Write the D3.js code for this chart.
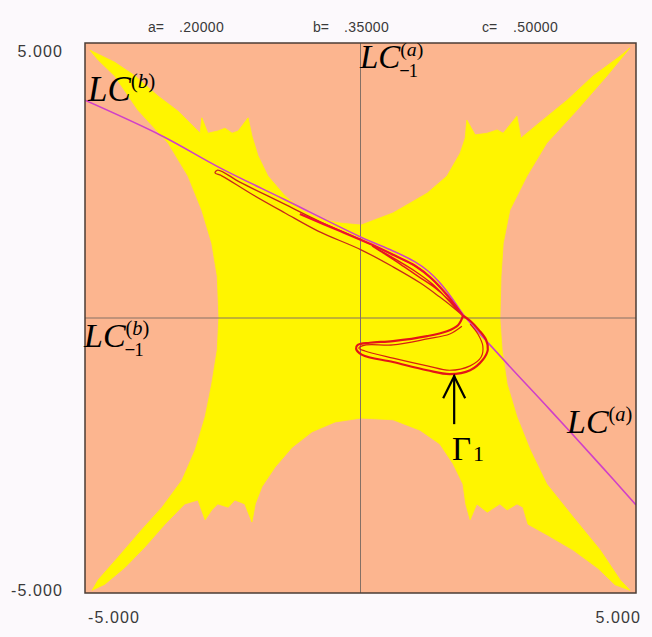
<!DOCTYPE html>
<html><head><meta charset="utf-8">
<script src="https://cdn.jsdelivr.net/npm/d3@7"></script>
<style>html,body{margin:0;padding:0;background:#fcf9fc;}svg{display:block;}</style>
</head><body>
<svg id="c" width="652" height="637"></svg>
<script>
// ---- data (phase plane coordinates) ----
const xDomain = [-5, 5];
const yDomain = [-5, 5];
const xTickLabels = ["-5.000", "5.000"];
const yTickLabels = ["5.000", "-5.000"];
const paramNames = ["a=", "b=", "c="];
const paramValues = [".20000", ".35000", ".50000"];

// basin boundary (yellow region), traced clockwise from the top-left tip
const basinTop = [[-4.91,4.87],[-4.46,4.65],[-4.09,4.40],[-3.68,4.04],[-3.31,3.76],[-3.00,3.45],[-2.91,3.36],[-2.88,3.64],[-2.77,3.36],[-2.59,3.40],[-2.46,3.45],[-2.33,3.36],[-2.22,3.40],[-2.04,3.64],[-1.97,3.31],[-1.86,2.95],[-1.68,2.58],[-1.37,2.22],[-1.06,1.96],[-0.77,1.82],[-0.41,1.73],[0.01,1.69],[0.59,1.91],[1.21,2.27],[1.57,2.58],[1.81,3.00],[1.90,3.27],[1.93,3.60],[2.08,3.33],[2.30,3.36],[2.48,3.42],[2.59,3.36],[2.84,3.67],[2.91,3.27],[3.26,3.56],[3.75,3.96],[4.22,4.40],[4.71,4.76],[4.89,4.91]];
const basinRight = [[4.47,4.40],[3.93,3.78],[3.38,3.18],[3.02,2.58],[2.71,1.96],[2.59,1.36],[2.55,0.76],[2.53,-0.02],[2.57,-0.58],[2.66,-1.20],[2.84,-1.80],[3.08,-2.40],[3.38,-3.02],[3.86,-3.62],[4.35,-4.22],[4.71,-4.76],[4.89,-4.95]];
const basinBottom = [[4.62,-4.85],[4.31,-4.55],[3.86,-4.22],[3.40,-3.95],[3.04,-3.75],[2.95,-3.44],[2.84,-3.38],[2.66,-3.49],[2.53,-3.38],[2.30,-3.53],[2.11,-3.38],[1.99,-3.67],[1.91,-3.38],[1.86,-3.02],[1.68,-2.65],[1.44,-2.29],[1.08,-2.04],[0.59,-1.85],[0.01,-1.82],[-0.46,-1.89],[-0.88,-2.07],[-1.24,-2.35],[-1.55,-2.71],[-1.79,-3.07],[-1.91,-3.38],[-1.97,-3.71],[-2.10,-3.38],[-2.28,-3.31],[-2.40,-3.44],[-2.59,-3.38],[-2.70,-3.49],[-2.82,-3.67],[-2.95,-3.31],[-3.19,-3.38],[-3.55,-3.75],[-3.91,-4.16],[-4.27,-4.53],[-4.64,-4.84],[-4.87,-4.95]];
const basinLeft = [[-4.76,-4.76],[-4.40,-4.35],[-3.97,-3.85],[-3.60,-3.44],[-3.24,-2.95],[-3.00,-2.40],[-2.82,-1.80],[-2.70,-1.20],[-2.60,-0.58],[-2.57,0.02],[-2.60,0.76],[-2.70,1.36],[-2.88,1.96],[-3.13,2.58],[-3.49,3.18],[-4.04,3.78],[-4.46,4.40],[-4.76,4.69]];

// critical curves LC(b) (upper-left) and LC(a) (lower-right)
const criticalCurve = [[-5.00,3.96],[-3.60,3.31],[-2.55,2.73],[-1.37,2.15],[0.01,1.47],[0.59,1.22],[0.99,1.02],[1.23,0.85],[1.44,0.64],[1.66,0.36],[1.86,0.07],[2.57,-0.73],[3.44,-1.67],[4.35,-2.67],[5.00,-3.40]];

// attractor Gamma_1 strands
const upperLoop = [[1.86,0.04],[1.44,0.56],[1.08,0.89],[0.72,1.09],[0.01,1.42],[-0.73,1.75],[-1.46,2.11],[-2.19,2.47],[-2.59,2.69],[-2.64,2.64],[-2.51,2.58],[-1.97,2.25],[-1.37,1.91],[-0.77,1.58],[0.01,1.24],[0.59,0.93],[1.08,0.64],[1.44,0.38],[1.72,0.16],[1.86,0.04]];
const bandStrand = [[-1.10,1.89],[-0.37,1.58],[0.21,1.33],[0.63,1.13],[0.99,0.95],[1.30,0.71],[1.57,0.42],[1.77,0.16],[1.86,0.04]];
const innerLoop = [[0.21,1.31],[0.63,1.07],[0.99,0.85],[1.30,0.62],[1.57,0.35],[1.77,0.13],[1.62,0.31],[1.35,0.55],[1.04,0.76],[0.72,0.98],[0.35,1.22],[0.21,1.31]];
const lowerLoop = [[1.86,0.04],[1.77,-0.13],[1.57,-0.24],[1.21,-0.33],[0.59,-0.42],[0.17,-0.45],[-0.05,-0.49],[-0.08,-0.56],[0.03,-0.67],[0.59,-0.80],[1.21,-0.95],[1.62,-1.02],[1.99,-0.95],[2.22,-0.76],[2.31,-0.58],[2.28,-0.40],[2.15,-0.22],[1.99,-0.05],[1.86,0.04]];
const lowerInner = [[1.99,-0.11],[2.13,-0.29],[2.22,-0.51],[2.19,-0.71],[1.99,-0.87],[1.62,-0.95],[1.21,-0.87],[0.59,-0.73],[0.08,-0.60],[-0.03,-0.55],[0.10,-0.49],[0.59,-0.49],[1.21,-0.38],[1.62,-0.29],[1.84,-0.15]];

// arrow pointing at Gamma_1
const arrowTip = [1.70, -1.04];
const arrowTail = [1.70, -1.93];

// ---- drawing ----
const svg = d3.select("#c");
const x = d3.scaleLinear().domain(xDomain).range([85, 636]);
const y = d3.scaleLinear().domain(yDomain).range([593, 43]);

const clip = svg.append("defs").append("clipPath").attr("id","plot");
clip.append("rect").attr("x",x(-5)).attr("y",y(5)).attr("width",x(5)-x(-5)).attr("height",y(-5)-y(5));

const g = svg.append("g").attr("clip-path","url(#plot)");
g.append("rect").attr("x",x(-5)).attr("y",y(5)).attr("width",x(5)-x(-5)).attr("height",y(-5)-y(5)).attr("fill","#fcb58f");

const basin = basinTop.concat(basinRight, basinBottom, basinLeft);
g.append("path").attr("d", d3.line().x(d=>x(d[0])).y(d=>y(d[1])).curve(d3.curveLinearClosed)(basin))
  .attr("fill","#fff500").attr("stroke","#fff500").attr("stroke-width",0.8);

// axes cross
g.append("line").attr("x1",x(0)).attr("x2",x(0)).attr("y1",y(5)).attr("y2",y(-5)).attr("stroke","#857065").attr("stroke-width",1);
g.append("line").attr("x1",x(-5)).attr("x2",x(5)).attr("y1",y(0)).attr("y2",y(0)).attr("stroke","#857065").attr("stroke-width",1);

const smooth = d3.line().x(d=>x(d[0])).y(d=>y(d[1])).curve(d3.curveCatmullRom.alpha(0.5));

g.append("path").attr("d", smooth(criticalCurve)).attr("fill","none").attr("stroke","#d040c8").attr("stroke-width",1.6);

g.append("path").attr("d", smooth(upperLoop)).attr("fill","none").attr("stroke","#c8281a").attr("stroke-width",1.3);
g.append("path").attr("d", smooth(bandStrand)).attr("fill","none").attr("stroke","#ee1030").attr("stroke-width",2.2);
g.append("path").attr("d", smooth(innerLoop)).attr("fill","none").attr("stroke","#e41420").attr("stroke-width",1.4);
g.append("path").attr("d", smooth(lowerLoop)).attr("fill","none").attr("stroke","#e41418").attr("stroke-width",2.2);
g.append("path").attr("d", smooth(lowerInner)).attr("fill","none").attr("stroke","#d82010").attr("stroke-width",1.2);

// frame
svg.append("rect").attr("x",x(-5)).attr("y",y(5)).attr("width",x(5)-x(-5)).attr("height",y(-5)-y(5))
  .attr("fill","none").attr("stroke","#4b3d35").attr("stroke-width",1.5);

// header and tick labels
const sans = "Liberation Sans, Arial, sans-serif";
const hdrX = [148, 313, 482];
paramNames.forEach((n,i)=>{
  svg.append("text").attr("x",hdrX[i]).attr("y",32).attr("font-family",sans).attr("font-size",14).attr("fill","#3a3a3a")
    .text(n);
  svg.append("text").attr("x",hdrX[i]+31).attr("y",32).attr("font-family",sans).attr("font-size",14).attr("fill","#3a3a3a")
    .attr("letter-spacing",0.4).text(paramValues[i]);
});
const tick = (t, px, py, anchor) => svg.append("text").attr("x",px).attr("y",py).attr("text-anchor",anchor)
  .attr("font-family",sans).attr("font-size",16).attr("letter-spacing",1.1).attr("fill","#3a3a3a").text(t);
tick(yTickLabels[0], 63, 57, "end");
tick(yTickLabels[1], 63, 596, "end");
tick(xTickLabels[0], x(-5)+3, 623, "start");
tick(xTickLabels[1], x(5)+5, 623, "end");

// curve labels
const serif = "Liberation Serif, Times New Roman, serif";
function lab(px, py, main, sup, sub, size){
  svg.append("text").attr("font-family",serif).attr("fill","#000").attr("x",px).attr("y",py)
    .attr("font-size",size).attr("font-style","italic").text(main);
  const w = size*1.22;
  if (sup) {
    const s = svg.append("text").attr("font-family",serif).attr("fill","#000").attr("x",px+w).attr("y",py-size*0.36).attr("font-size",size*0.6);
    s.append("tspan").text("(");
    s.append("tspan").attr("font-style","italic").text(sup);
    s.append("tspan").text(")");
  }
  if (sub) {
    const s = svg.append("text").attr("font-family",serif).attr("fill","#000").attr("x",px+w-1).attr("y",py+size*0.26).attr("font-size",size*0.56);
    s.append("tspan").attr("font-weight","bold").text("\u2212");
    s.append("tspan").attr("dx",-1).text(sub);
  }
}
lab(88, 101, "LC", "b", null, 35);
lab(360, 68, "LC", "a", "1", 33);
lab(84, 347, "LC", "b", "1", 34);
lab(567, 433, "LC", "a", null, 34);

// arrow and Gamma_1 label
const ax = x(arrowTip[0]), ay = y(arrowTip[1]), ty = y(arrowTail[1]);
svg.append("line").attr("x1",ax).attr("x2",ax).attr("y1",ay).attr("y2",ty).attr("stroke","#000").attr("stroke-width",2.2);
svg.append("path").attr("d",`M${ax-11},${ay+23}L${ax},${ay+1}L${ax+11},${ay+23}`).attr("fill","none").attr("stroke","#000").attr("stroke-width",2.2);
svg.append("text").attr("x",452).attr("y",460).attr("font-family",serif).attr("font-size",33).attr("fill","#000").text("\u0393");
svg.append("text").attr("x",473).attr("y",461).attr("font-family",serif).attr("font-size",22).attr("fill","#000").text("1");
</script>
</body></html>
